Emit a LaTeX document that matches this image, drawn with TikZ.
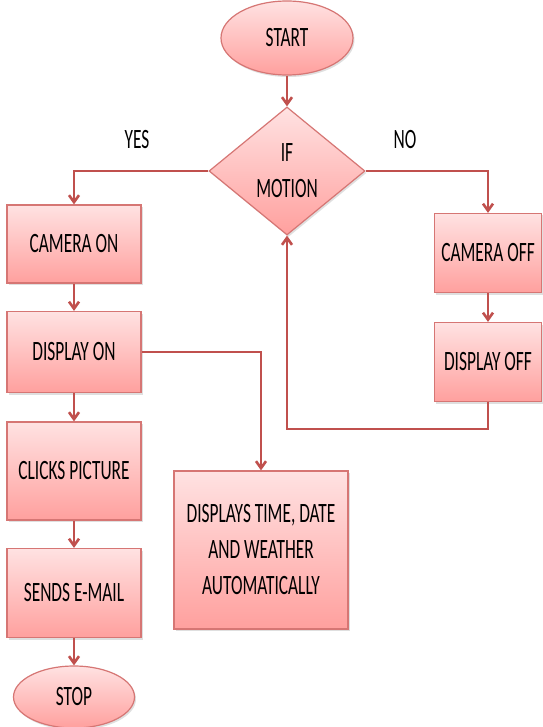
\documentclass[tikz,border=0pt]{standalone}
\usepackage{fontspec}
\newfontfamily\flowfont[FakeStretch=0.62]{Carlito}
\usetikzlibrary{arrows.meta,shapes.geometric,shadows}
\definecolor{flowline}{RGB}{192,80,77}
\definecolor{flowedge}{RGB}{214,118,116}
\definecolor{flowtop}{RGB}{255,226,226}
\definecolor{flowbottom}{RGB}{255,160,158}

\begin{document}
\begin{tikzpicture}[x=1pt,y=-1pt,
    flowshape/.style={draw=flowedge, line width=1.2pt, top color=flowtop, bottom color=flowbottom,
      font=\flowfont\fontsize{28}{36}\selectfont, align=center, inner sep=1pt,
      drop shadow={opacity=0.25, shadow xshift=1.5pt, shadow yshift=-2pt}},
    blockbox/.style={flowshape, rectangle},
    termbox/.style={flowshape, ellipse},
    flowarrow/.style={draw=flowline, line width=2.6pt, -{Straight Barb[length=7pt,width=10pt]}},
    branchlabel/.style={font=\flowfont\fontsize{28}{36}\selectfont}]
  \path[use as bounding box, fill=white] (0,0) rectangle (542,727);

  \node[termbox, minimum width=132pt, minimum height=74pt] (start) at (287,38) {START};
  \node[flowshape, diamond, aspect=1.22, minimum width=156pt, minimum height=128pt, inner sep=0pt] (motion) at (287,171) {IF\\MOTION};

  \node[blockbox, minimum width=134pt, minimum height=78pt] (camon) at (74,244) {CAMERA ON};
  \node[blockbox, minimum width=134pt, minimum height=81pt] (dispon) at (74,352) {DISPLAY ON};
  \node[blockbox, minimum width=134pt, minimum height=98pt] (clicks) at (74,471) {CLICKS PICTURE};
  \node[blockbox, minimum width=134pt, minimum height=89pt] (sends) at (74,593) {SENDS E-MAIL};
  \node[termbox, minimum width=121pt, minimum height=62pt] (stop) at (74,697) {STOP};

  \node[blockbox, minimum width=174pt, minimum height=158pt] (disptime) at (261,550) {DISPLAYS TIME, DATE\\AND WEATHER\\AUTOMATICALLY};

  \node[blockbox, minimum width=107pt, minimum height=79pt] (camoff) at (488,253) {CAMERA OFF};
  \node[blockbox, minimum width=107pt, minimum height=79pt] (dispoff) at (488,362) {DISPLAY OFF};

  \node[branchlabel] (yes) at (137,140) {YES};
  \node[branchlabel] (no) at (405,140) {NO};

  \coordinate (loop) at (287,429);

  \draw[flowarrow] (start) -- (motion.north);
  \draw[flowarrow] (motion.west) -| (camon.north);
  \draw[flowarrow] (motion.east) -| (camoff.north);
  \draw[flowarrow] (camon) -- (dispon);
  \draw[flowarrow] (dispon) -- (clicks);
  \draw[flowarrow] (clicks) -- (sends);
  \draw[flowarrow] (sends) -- (stop);
  \draw[flowarrow] (dispon.east) -| (disptime.north);
  \draw[flowarrow] (camoff) -- (dispoff);
  \draw[flowarrow] (dispoff.south) |- (loop) -- (motion.south);
\end{tikzpicture}
\end{document}
